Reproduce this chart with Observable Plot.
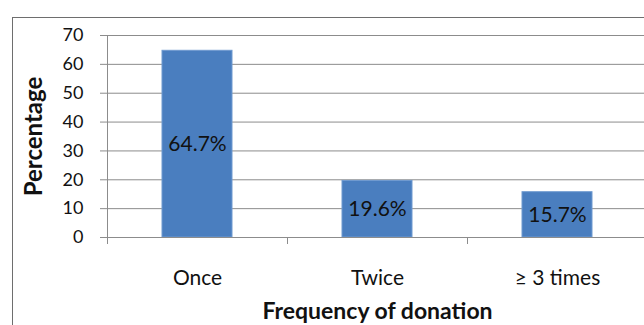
<!DOCTYPE html>
<html>
<head>
<meta charset="utf-8">
<script src="https://cdn.jsdelivr.net/npm/d3@7"></script>
<script src="https://cdn.jsdelivr.net/npm/@observablehq/plot@0.6"></script>
<style>
  html, body { margin: 0; padding: 0; background: #fff; overflow: hidden; width: 644px; height: 325px; }
  #frame { position: absolute; left: 12px; top: 17px; width: 700px; height: 400px; border: 1.5px solid #6e6e6e; box-sizing: border-box; }
  #chart { position: absolute; left: 0; top: 0; width: 660px; }
  #chart svg { font-family: Lato, "Open Sans", sans-serif; max-width: none !important; }
  #chart [aria-label="y-axis label"] text { font-weight: bold; font-size: 24px; }
  #chart [aria-label="x-axis label"] text { font-weight: bold; font-size: 23px; }
</style>
</head>
<body>
<div id="frame"></div>
<div id="chart"></div>
<script>
const categories = ["Once", "Twice", "\u2265 3 times"];
const values = [64.7, 19.6, 15.7];
const valueLabels = ["64.7%", "19.6%", "15.7%"];
const yTicks = [0, 10, 20, 30, 40, 50, 60, 70];
const xTitle = "Frequency of donation";
const yTitle = "Percentage";

const data = categories.map((c, i) => ({category: c, value: values[i], label: valueLabels[i]}));

const W = 660, H = 325, mL = 107, mR = 13, mT = 35, mB = 88;
const paddingInner = 0.61, paddingOuter = 0.305;
const step = (W - mL - mR) / (categories.length - paddingInner + 2 * paddingOuter);
const half = -step / 2;
const grey = "#8c8c8c";

const chart = Plot.plot({
  width: W, height: H,
  marginLeft: mL, marginRight: mR, marginTop: mT, marginBottom: mB,
  style: {background: "transparent", color: "#111", overflow: "visible", maxWidth: "none"},
  x: {domain: categories, paddingInner, paddingOuter},
  y: {domain: [0, 70]},
  marks: [
    Plot.gridY(yTicks, {stroke: grey, strokeOpacity: 1}),
    Plot.barY(data, {x: "category", y: "value", fill: "#4a7ebf", stroke: "#6f9ad0", strokeWidth: 1}),
    Plot.ruleY([0], {stroke: grey}),
    Plot.ruleX(categories, {x: d => d, y1: 0, y2: 0, dx: half, insetBottom: -7, stroke: grey}),
    Plot.ruleX([categories[0]], {x: d => d, y1: 0, y2: 70, dx: half, stroke: grey}),
    Plot.axisY(yTicks, {tickSize: 7, tickPadding: 17, fontSize: 18, stroke: grey,
      label: yTitle, labelAnchor: "center", labelArrow: "none", labelOffset: 83}),
    Plot.axisX({tickSize: 0, tickPadding: 33, fontSize: 21,
      label: xTitle, labelAnchor: "center", labelArrow: "none", labelOffset: 81}),
    Plot.text(data, {x: "category", y: d => d.value / 2, text: "label", fontSize: 21, fill: "#111"})
  ]
});
document.getElementById("chart").appendChild(chart);
</script>
</body>
</html>
